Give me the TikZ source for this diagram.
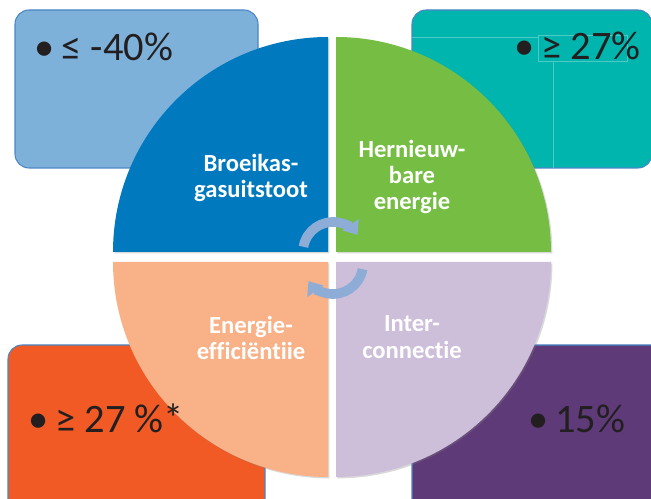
\documentclass[tikz,border=0pt]{standalone}
\usepackage{fontspec}
\setmainfont{Carlito}[Ligatures=NoCommon, RawFeature={-liga}]
\usetikzlibrary{arrows.meta,shadows}

\definecolor{co2light}{HTML}{7EB1DA}
\definecolor{renewteal}{HTML}{00B5AD}
\definecolor{effiorange}{HTML}{F15A24}
\definecolor{interpurple}{HTML}{5E3A78}
\definecolor{co2blue}{HTML}{0079BF}
\definecolor{renewgreen}{HTML}{76BE43}
\definecolor{effipeach}{HTML}{F9B187}
\definecolor{interlilac}{HTML}{CDBEDA}
\definecolor{boxedge}{HTML}{4A86C5}
\definecolor{cycleblue}{HTML}{8DADD6}
\definecolor{goalink}{HTML}{231F20}

\begin{document}
\begin{tikzpicture}[
  x=0.02cm, y=0.02cm,
  goalbox/.style={draw=boxedge, line width=0.6pt, rounded corners=8pt},
  tealline/.style={draw=renewteal!70!white, line width=0.3pt},
  sector/.style={drop shadow={shadow xshift=0.8pt, shadow yshift=-0.8pt, opacity=0.3}},
  sectorlabel/.style={text=white, font=\fontsize{14}{15}\selectfont\bfseries, align=center},
  goaltext/.style={anchor=base west, inner sep=0pt, text=goalink, font=\fontsize{23}{27}\selectfont},
  cyclearrow/.style={draw=cycleblue, line width=5.5pt, -{Triangle[width=11pt,length=7pt]}}
]
\clip (0,0) rectangle (651,499);
% goal boxes
\draw[goalbox, fill=co2light] (15,331) rectangle (258,489);
\draw[goalbox, fill=renewteal] (412,331) rectangle (652,489);
\draw[goalbox, fill=effiorange] (8,-20) rectangle (265,154);
\draw[goalbox, fill=interpurple] (412,-20) rectangle (665,154);
\draw[tealline] (412,462) -- (538,462) (553,438) -- (553,331);
\draw[tealline] (538,438) rectangle (627,464);
% quarter sectors
\fill[sector, co2blue] (328,247) -- (113,247) arc[start angle=180, end angle=90, radius=215] -- cycle;
\fill[sector, renewgreen] (336,247) -- (336,462) arc[start angle=90, end angle=0, radius=215] -- cycle;
\fill[sector, effipeach] (328,237) -- (328,22) arc[start angle=270, end angle=180, radius=215] -- cycle;
\fill[sector, interlilac] (336,237) -- (551,237) arc[start angle=0, end angle=-90, radius=215] -- cycle;
% sector labels
\node[sectorlabel] (co2label) at (251,321) {Broeikas-\\gasuitstoot};
\node[sectorlabel] (renewlabel) at (412,322) {Hernieuw-\\bare\\energie};
\node[sectorlabel] (effilabel) at (251,161) {Energie-\\efficiëntiie};
\node[sectorlabel] (interlabel) at (412,162) {Inter-\\connectie};
% goals
\node[goaltext] (co2goal) at (34,438) {•\hspace{4pt}≤ -40\%};
\node[goaltext] (renewgoal) at (514,439) {•\hspace{4pt}≥ 27\%};
\node[goaltext] (effigoal) at (28,66) {•\hspace{4pt}≥ 27 \%*};
\node[goaltext] (intergoal) at (528,66) {•\hspace{4pt}15\%};
% cycle arrows
\coordinate (upperhub) at (333,247);
\coordinate (lowerhub) at (333,235);
\draw[cyclearrow] (upperhub) ++(170:30) arc[start angle=170, end angle=35, radius=30];
\draw[cyclearrow] (lowerhub) ++(-10:30) arc[start angle=-10, end angle=-145, radius=30];
\end{tikzpicture}
\end{document}
